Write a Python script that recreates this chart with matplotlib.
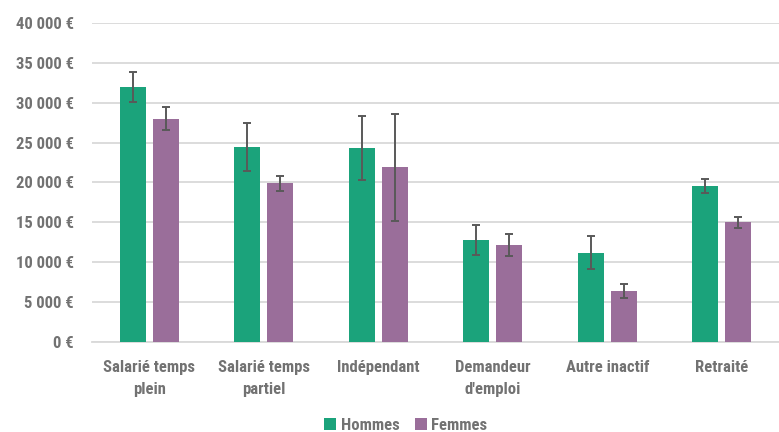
import matplotlib
matplotlib.use("Agg")
import matplotlib.pyplot as plt
import numpy as np

categories = ["Salarié temps\nplein", "Salarié temps\npartiel", "Indépendant",
              "Demandeur\nd'emploi", "Autre inactif", "Retraité"]
hommes = [32000, 24500, 24300, 12800, 11200, 19550]
femmes = [28000, 19900, 21900, 12150, 6400, 15000]
err_hommes = [1850, 3000, 4000, 1900, 2050, 850]
err_femmes = [1450, 950, 6700, 1350, 870, 650]
yticks = [0, 5000, 10000, 15000, 20000, 25000, 30000, 35000, 40000]
ytick_labels = ["0 €", "5 000 €", "10 000 €", "15 000 €", "20 000 €",
                "25 000 €", "30 000 €", "35 000 €", "40 000 €"]
series_names = ["Hommes", "Femmes"]

GREEN = "#1ba37b"
PURPLE = "#9a6e9a"
TXT = "#727272"
FONT = ["Roboto Condensed", "DejaVu Sans"]
plt.rcParams['font.family'] = FONT
plt.rcParams['font.stretch'] = 'condensed'

fig = plt.figure(figsize=(7.79, 4.32), dpi=100)
ax = fig.add_axes([92/779, 1-342/432, 1-92/779, (342-23)/432])

x = np.arange(len(categories))
w = 0.227
off = 0.144
ekw = dict(ecolor="#595959", elinewidth=1.4, capsize=3, capthick=1.4)
b1 = ax.bar(x - off, hommes, w, color=GREEN, yerr=err_hommes, error_kw=ekw,
            label=series_names[0], zorder=3)
b2 = ax.bar(x + off, femmes, w, color=PURPLE, yerr=err_femmes, error_kw=ekw,
            label=series_names[1], zorder=3)

fp = dict(family=FONT, weight="bold", size=12, stretch="condensed")
ax.set_xlim(-0.5, len(categories) - 0.5)
ax.set_ylim(0, 40000)
ax.set_yticks(yticks)
ax.set_yticklabels(ytick_labels, color=TXT, **fp)
ax.set_xticks(x)
ax.set_xticklabels(categories, color=TXT, linespacing=1.6, **fp)
ax.tick_params(axis="y", length=0, pad=13)
ax.tick_params(axis="x", length=0, pad=13)
ax.grid(axis="y", color="#d9d9d9", linewidth=1.3, zorder=0)
ax.set_axisbelow(True)
for s in ["top", "right", "left"]:
    ax.spines[s].set_visible(False)
ax.spines["bottom"].set_color("#d9d9d9")
ax.spines["bottom"].set_linewidth(1.3)

leg = fig.legend(handles=[b1, b2], labels=series_names, loc="center",
                 bbox_to_anchor=(406/779, 1 - 425.5/432), ncol=2, frameon=False,
                 handlelength=0.72, handleheight=0.72, handletextpad=0.25,
                 columnspacing=0.95, borderpad=0, prop=fp)
for t in leg.get_texts():
    t.set_color(TXT)

fig.savefig("out.png", dpi=100)
